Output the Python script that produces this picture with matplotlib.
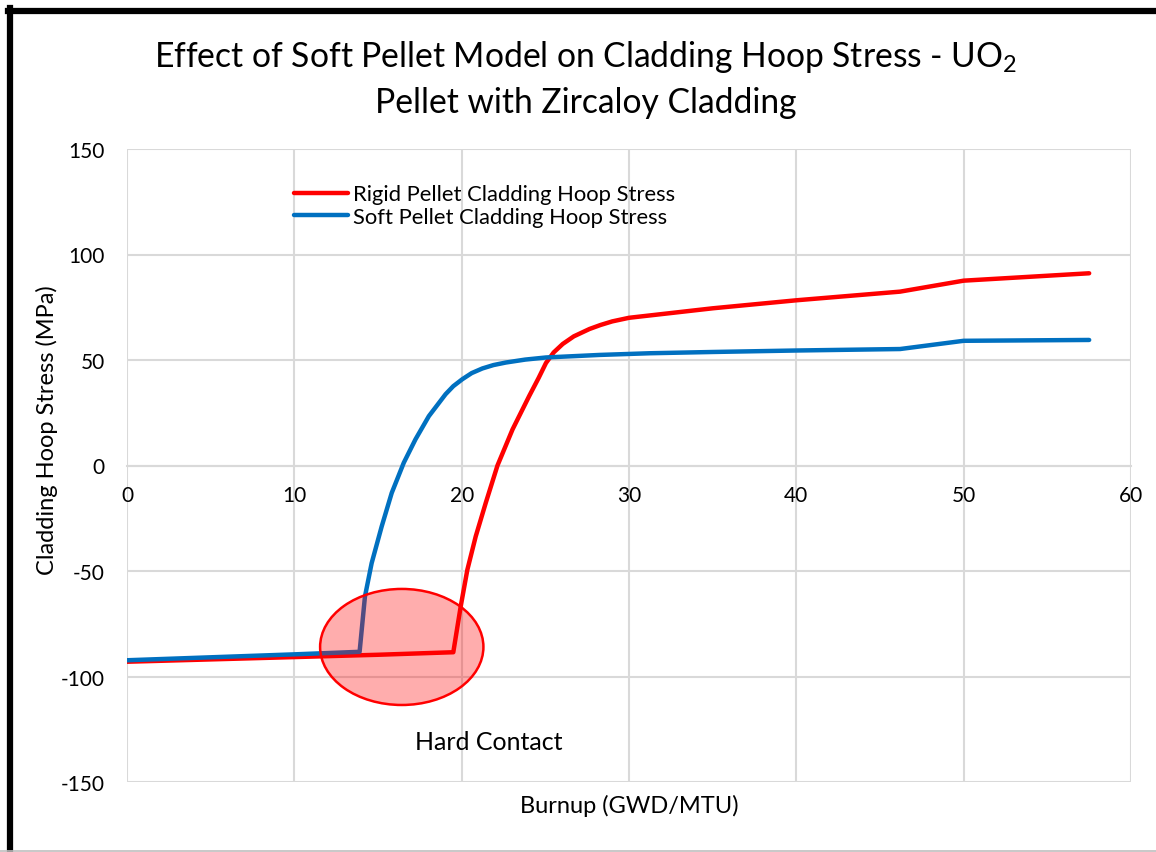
import matplotlib
matplotlib.use("Agg")
import matplotlib.pyplot as plt
from matplotlib.patches import Ellipse
from matplotlib.lines import Line2D

plt.rcParams['font.family'] = ['Lato', 'DejaVu Sans']
plt.rcParams['mathtext.fontset'] = 'custom'
plt.rcParams['mathtext.rm'] = 'Lato'
plt.rcParams['mathtext.it'] = 'Lato'
plt.rcParams['axes.unicode_minus'] = False

# Data
rigid_x = [0, 5, 10, 15, 19.5, 19.94, 20.34, 20.84, 21.44, 22.14, 23.04, 24.04, 24.6, 25.04, 25.5, 26.04, 26.7, 27.64,
           28.3, 29.0, 30, 35, 40, 46.2, 50, 57.5]
rigid_y = [-93.0, -91.9, -90.8, -89.7, -88.5, -66.9, -49.4, -33.6, -17.7, 0.0, 17.1, 33.0, 41.5, 48.6, 53.6, 57.6, 61.2, 64.7,
           66.6, 68.3, 70.0, 74.5, 78.3, 82.4, 87.6, 91.1]

soft_x = [0, 5, 10, 13.9, 14.22, 14.62, 15.22, 15.82, 16.54, 17.24, 18.04, 19.04, 19.5, 20.04, 20.6, 21.24, 21.9, 22.64,
          23.8, 25.04, 28.24, 31.24, 35, 40, 46.2, 50, 57.5]
soft_y = [-92.3, -90.9, -89.5, -88.3, -62.1, -46.3, -28.9, -13.0, 1.3, 12.4, 23.4, 33.8, 37.6, 40.9, 43.8, 46.0, 47.6, 48.8,
          50.2, 51.2, 52.4, 53.2, 53.8, 54.5, 55.2, 59.1, 59.5]

series_names = ["Rigid Pellet Cladding Hoop Stress", "Soft Pellet Cladding Hoop Stress"]
x_ticks = [0, 10, 20, 30, 40, 50, 60]
y_ticks = [-150, -100, -50, 0, 50, 100, 150]

ellipse_center = (16.42, -86.0)
ellipse_size = (9.76, 55.0)

fig = plt.figure(figsize=(11.56, 8.53), dpi=100)
ax = fig.add_axes([127/1156, 1-783/853, (1131-127)/1156, (783-150)/853])

grid_c = '#d9d9d9'
ax.set_xlim(0, 60)
ax.set_ylim(-150, 150)
ax.set_xticks(x_ticks)
ax.set_yticks(y_ticks)
ax.grid(True, color=grid_c, linewidth=1.5)
ax.set_axisbelow(True)
for s in ['top', 'right', 'left']:
    ax.spines[s].set_visible(False)
ax.spines['bottom'].set_position(('data', 0))
ax.spines['bottom'].set_color(grid_c)
ax.spines['bottom'].set_linewidth(1.5)
ax.tick_params(axis='both', length=0, labelsize=15, colors='black')
ax.tick_params(axis='x', pad=14)
ax.tick_params(axis='y', pad=16)

ax.plot(rigid_x, rigid_y, color='#ff0000', linewidth=3.2, label=series_names[0],
        solid_capstyle='round', solid_joinstyle='round', zorder=3)
ax.plot(soft_x, soft_y, color='#0070c0', linewidth=3.2, label=series_names[1],
        solid_capstyle='round', solid_joinstyle='round', zorder=3)

ell = Ellipse(ellipse_center, ellipse_size[0], ellipse_size[1], facecolor=(1, 0.0, 0.0, 0.32),
              edgecolor='#ff0000', linewidth=1.8, zorder=4)
ax.add_patch(ell)
ax.text(21.6, -131, "Hard Contact", fontsize=18, ha='center', va='center')

leg = ax.legend(loc='upper left', bbox_to_anchor=(0.1577, 0.958), frameon=False, fontsize=15.8,
                handlelength=2.45, handletextpad=0.23, labelspacing=0.12, borderaxespad=0)

fig.text(47/1156, 1-430/853, "Cladding Hoop Stress (MPa)", rotation=90, fontsize=17, ha='center', va='center')
fig.text(629/1156, 1-806/853, "Burnup (GWD/MTU)", fontsize=17, ha='center', va='center')

fig.text(586/1156, 1-57/853, r"Effect of Soft Pellet Model on Cladding Hoop Stress - UO$_2$", fontsize=24.2, ha='center', va='center')
fig.text(586/1156, 1-103/853, "Pellet with Zircaloy Cladding", fontsize=24.2, ha='center', va='center')

# outer border
fig.add_artist(Line2D([10/1156, 10/1156], [0, 1-9/853], color='black', linewidth=4.5, transform=fig.transFigure))
fig.add_artist(Line2D([8/1156, 1], [1-11.5/853, 1-11.5/853], color='black', linewidth=4.5, transform=fig.transFigure))
fig.add_artist(Line2D([0, 1], [1-851.5/853, 1-851.5/853], color='#bfbfbf', linewidth=1.2, transform=fig.transFigure))

fig.savefig("out.png", dpi=100)
